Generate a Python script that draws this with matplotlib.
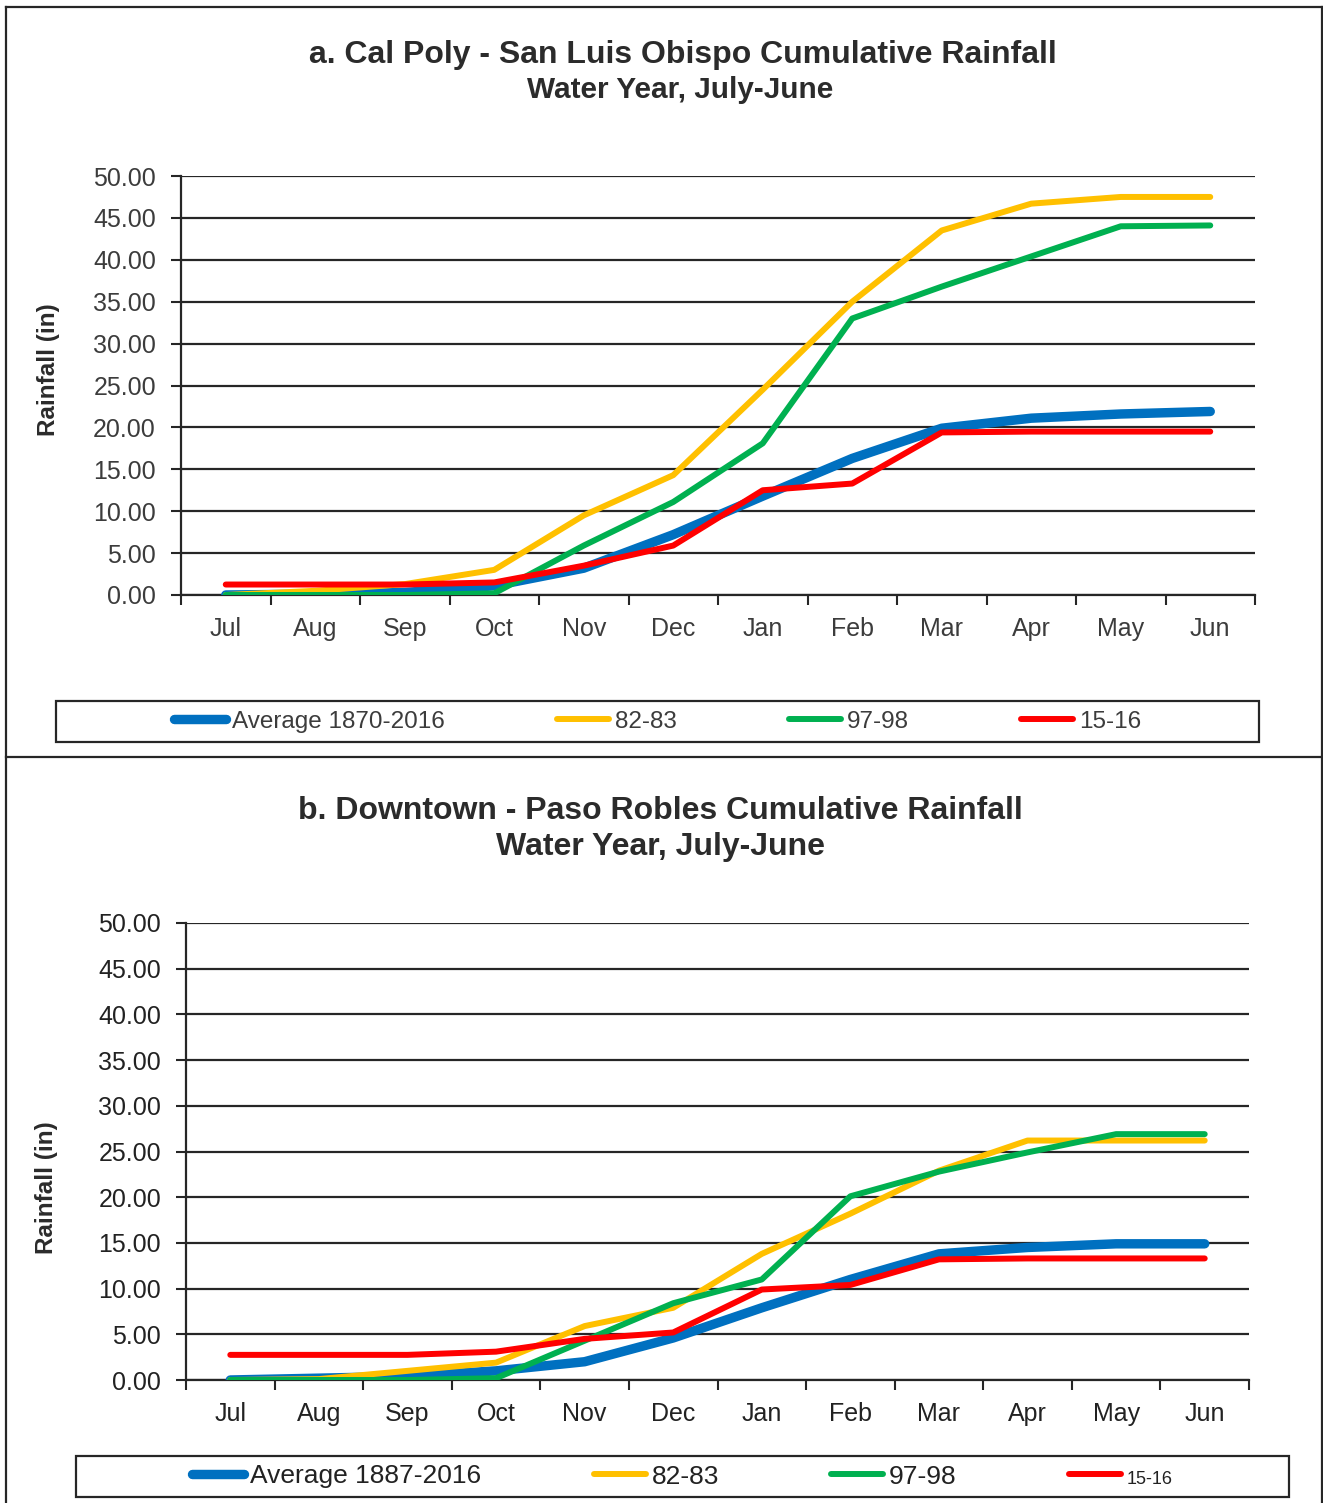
import matplotlib
matplotlib.use("Agg")
import matplotlib.pyplot as plt
from matplotlib.lines import Line2D
from matplotlib.patches import Rectangle

plt.rcParams['font.family'] = ['Liberation Sans', 'DejaVu Sans']

months = ['Jul', 'Aug', 'Sep', 'Oct', 'Nov', 'Dec', 'Jan', 'Feb', 'Mar', 'Apr', 'May', 'Jun']
yticks = [0, 5, 10, 15, 20, 25, 30, 35, 40, 45, 50]

# a. Cal Poly - San Luis Obispo
slo_avg = [0.0, 0.1, 0.3, 1.1, 3.2, 7.2, 11.8, 16.3, 19.9, 21.1, 21.6, 21.9]
slo_8283 = [0.0, 0.5, 1.3, 3.0, 9.5, 14.3, 24.5, 35.0, 43.5, 46.7, 47.5, 47.5]
slo_9798 = [0.0, 0.0, 0.0, 0.2, 5.9, 11.1, 18.1, 33.0, 36.8, 40.4, 44.0, 44.1]
slo_1516 = [1.25, 1.25, 1.25, 1.5, 3.5, 5.9, 12.5, 13.3, 19.4, 19.5, 19.5, 19.5]
slo_labels = ['Average 1870-2016', '82-83', '97-98', '15-16']

# b. Downtown - Paso Robles
pr_avg = [0.0, 0.2, 0.4, 1.0, 2.0, 4.6, 7.9, 11.0, 13.8, 14.5, 14.9, 14.9]
pr_8283 = [0.0, 0.1, 1.0, 1.9, 5.9, 7.9, 13.8, 18.2, 22.9, 26.2, 26.2, 26.2]
pr_9798 = [0.0, 0.0, 0.0, 0.2, 4.3, 8.4, 11.0, 20.1, 22.8, 24.9, 26.9, 26.9]
pr_1516 = [2.75, 2.75, 2.75, 3.1, 4.5, 5.2, 9.9, 10.4, 13.2, 13.3, 13.3, 13.3]
pr_labels = ['Average 1887-2016', '82-83', '97-98', '15-16']

colors = ['#0070C0', '#FFC000', '#00B050', '#FF0000']
widths = [6.8, 4.3, 4.3, 4.3]

W, H = 1323, 1503
fig = plt.figure(figsize=(W / 100, H / 100), dpi=100)


def fx(px):
    return px / W


def fy(py):
    return 1 - py / H


def make_panel(rect, series, labels, title1, title2, tick_color, ylab_pos,
               legend_box, legend_fs, legend_color):
    ax = fig.add_axes(rect)
    x = list(range(len(months)))
    for s, c, lw, lab in zip(series, colors, widths, labels):
        ax.plot(x, s, color=c, lw=lw, solid_capstyle='round', solid_joinstyle='round',
                label=lab, zorder=3)
    ax.set_xlim(-0.5, len(months) - 0.5)
    ax.set_ylim(0, 50)
    ax.set_yticks(yticks)
    ax.set_yticklabels([f'{v:.2f}' for v in yticks])
    ax.yaxis.grid(True, color='#262626', lw=1.6)
    ax.set_axisbelow(True)
    ax.set_xticks([i - 0.5 for i in range(len(months) + 1)])
    ax.set_xticklabels([])
    ax.set_xticks(x, minor=True)
    ax.set_xticklabels(months, minor=True)
    ax.tick_params(axis='x', which='major', length=7, width=1.5, color='#262626', direction='out')
    ax.tick_params(axis='x', which='minor', length=0, pad=16, labelsize=18, labelcolor=tick_color)
    ax.tick_params(axis='y', length=7, width=1.5, color='#262626', pad=11, labelsize=18,
                   labelcolor=tick_color)
    for sp in ['top', 'right']:
        ax.spines[sp].set_visible(False)
    for sp in ['left', 'bottom']:
        ax.spines[sp].set_color('#262626')
        ax.spines[sp].set_linewidth(1.6)
    # titles
    fig.text(title1[1], title1[2], title1[0], ha='center', va='center', fontsize=title1[3],
             fontweight='bold', color='#2b2b2b')
    fig.text(title2[1], title2[2], title2[0], ha='center', va='center', fontsize=title2[3],
             fontweight='bold', color='#2b2b2b')
    fig.text(ylab_pos[0], ylab_pos[1], 'Rainfall (in)', rotation=90, ha='center', va='center',
             fontsize=17.5, fontweight='bold', color='#2b2b2b')
    # legend box
    x0, y0, x1, y1 = legend_box
    fig.patches.append(Rectangle((fx(x0), fy(y1)), fx(x1) - fx(x0), fy(y0) - fy(y1),
                                 transform=fig.transFigure, fill=False,
                                 edgecolor='#262626', lw=1.6))
    handles = [Line2D([0], [0], color=c, lw=lw, solid_capstyle='round') for c, lw in zip(colors, widths)]
    px_per_fs = legend_fs * 100 / 72
    leg = fig.legend(handles, labels, loc='center', ncol=4,
                     bbox_to_anchor=(fx((x0 + x1) / 2), fy((y0 + y1) / 2)),
                     frameon=False, fontsize=legend_fs, handlelength=52 / px_per_fs,
                     handletextpad=6 / px_per_fs, columnspacing=112 / px_per_fs, borderpad=0)
    for t in leg.get_texts():
        t.set_color(legend_color)
    return ax, leg


make_panel([fx(181), fy(595), fx(1255) - fx(181), fy(176) - fy(595)],
           [slo_avg, slo_8283, slo_9798, slo_1516], slo_labels,
           ('a. Cal Poly - San Luis Obispo Cumulative Rainfall', fx(683), fy(55), 23),
           ('Water Year, July-June', fx(680), fy(90), 21.4),
           '#3c3c3c', (fx(48), fy(370)), (56, 701, 1259, 742), 17.5, '#3c3c3c')

ax2, leg2 = make_panel([fx(186), fy(1380), fx(1249) - fx(186), fy(923) - fy(1380)],
           [pr_avg, pr_8283, pr_9798, pr_1516], pr_labels,
           ('b. Downtown - Paso Robles Cumulative Rainfall', fx(660), fy(811), 23),
           ('Water Year, July-June', fx(660), fy(847), 23),
           '#222222', (fx(46), fy(1188)), (76, 1456, 1289, 1497), 19, '#222222')
leg2.get_texts()[3].set_fontsize(13)

# outer frame lines
frame_kw = dict(transform=fig.transFigure, color='#262626', lw=1.6)
fig.add_artist(Line2D([fx(6), fx(6)], [fy(7), fy(1503)], **frame_kw))
fig.add_artist(Line2D([fx(1322), fx(1322)], [fy(7), fy(1503)], **frame_kw))
fig.add_artist(Line2D([fx(6), fx(1322)], [fy(7), fy(7)], **frame_kw))
fig.add_artist(Line2D([fx(6), fx(1322)], [fy(757), fy(757)], **frame_kw))

fig.savefig('out.png', dpi=100, facecolor='white')
